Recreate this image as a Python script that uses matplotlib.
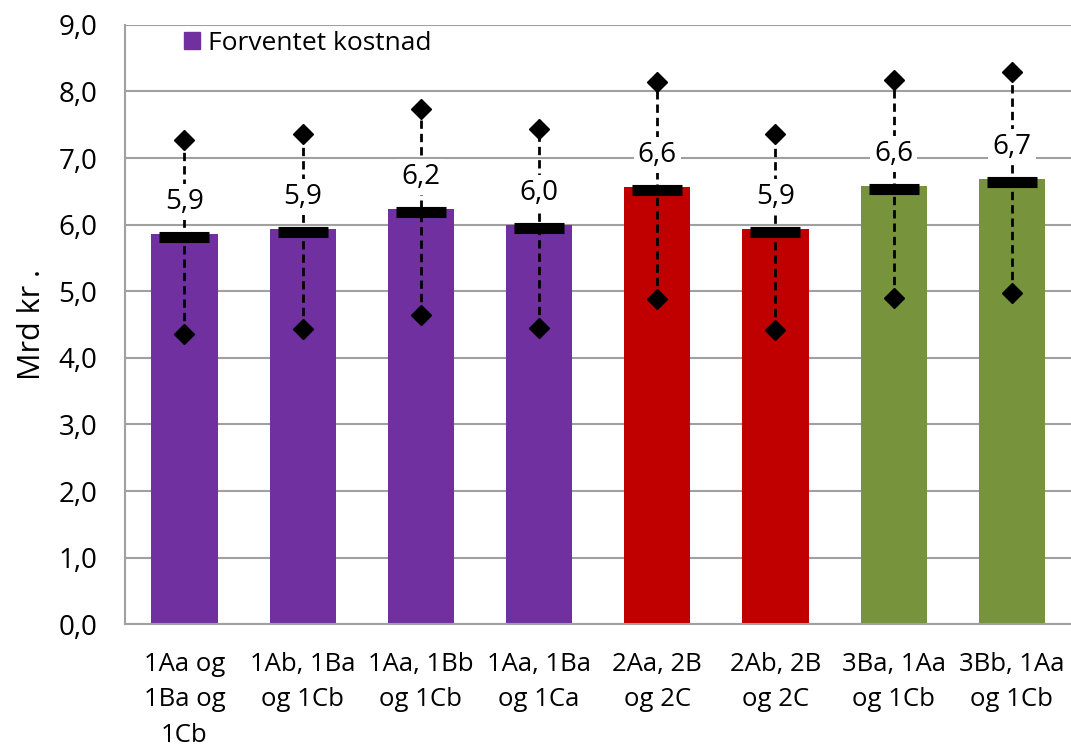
import matplotlib
matplotlib.use("Agg")
import matplotlib.pyplot as plt
import matplotlib.transforms as mtransforms
from matplotlib.patches import Patch

kategorier = ["1Aa og\n1Ba og\n1Cb", "1Ab, 1Ba\nog 1Cb", "1Aa, 1Bb\nog 1Cb", "1Aa, 1Ba\nog 1Ca",
              "2Aa, 2B\nog 2C", "2Ab, 2B\nog 2C", "3Ba, 1Aa\nog 1Cb", "3Bb, 1Aa\nog 1Cb"]
forventet = [5.86, 5.93, 6.23, 5.99, 6.57, 5.93, 6.58, 6.69]
lav = [4.36, 4.43, 4.64, 4.45, 4.88, 4.42, 4.90, 4.97]
hoy = [7.27, 7.36, 7.74, 7.44, 8.14, 7.36, 8.17, 8.29]
etiketter = ["5,9", "5,9", "6,2", "6,0", "6,6", "5,9", "6,6", "6,7"]
farger = ["#7030A0"] * 4 + ["#C00000"] * 2 + ["#77933C"] * 2

plt.rcParams["font.family"] = ["Open Sans", "DejaVu Sans"]

fig = plt.figure(figsize=(10.71, 7.53), dpi=100)
ax = fig.add_axes([0.117, 0.171, 0.883, 0.796])

x = range(len(kategorier))
ax.bar(x, forventet, width=0.56, color=farger, zorder=2)

# stiplet linje mellom lav og hoy
for i in x:
    ax.plot([i, i], [lav[i], hoy[i]], color="black", ls=(0, (3, 1.8)), lw=2, zorder=3)
ax.plot(x, lav, ls="none", marker="D", ms=10, color="black", zorder=4)
ax.plot(x, hoy, ls="none", marker="D", ms=10, color="black", zorder=4)

# tykk svart strek for forventet verdi
nedover = mtransforms.offset_copy(ax.transData, fig=fig, x=0, y=-3, units="dots")
ax.plot(x, forventet, ls="none", marker="_", ms=36, mew=8, color="black",
        transform=nedover, zorder=5)

for i in x:
    ax.annotate(etiketter[i], (i, forventet[i]), xytext=(0, 32), textcoords="offset pixels",
                ha="center", va="center", fontsize=20, zorder=6,
                bbox=dict(boxstyle="square,pad=0.15", fc="white", ec="none"))

ax.set_ylim(0, 9)
ax.set_xlim(-0.5, len(kategorier) - 0.5)
ax.set_yticks([i for i in range(10)])
ax.set_yticklabels([f"{i},0" for i in range(10)], fontsize=20)
ax.set_xticks(list(x))
ax.set_xticklabels(kategorier, fontsize=18.5, linespacing=1.55)
ax.tick_params(axis="both", length=0)
ax.tick_params(axis="y", pad=20)
ax.tick_params(axis="x", pad=20)
ax.set_ylabel("Mrd kr .", fontsize=22)
ax.yaxis.set_label_coords(-0.083, 0.5)

ax.grid(axis="y", color="#a0a0a0", lw=1.5, zorder=0)
ax.set_axisbelow(True)
for s in ["top", "right"]:
    ax.spines[s].set_visible(False)
ax.spines["left"].set_color("#a0a0a0")
ax.spines["bottom"].set_color("#a0a0a0")
ax.spines["left"].set_linewidth(1.5)
ax.spines["bottom"].set_linewidth(1.5)

ax.legend(handles=[Patch(color="#7030A0", label="Forventet kostnad")], loc="upper left",
          bbox_to_anchor=(0.037, 1.03), frameon=False, fontsize=19,
          handlelength=0.6, handleheight=0.6, handletextpad=0.3)

fig.savefig("out.png", dpi=100)
